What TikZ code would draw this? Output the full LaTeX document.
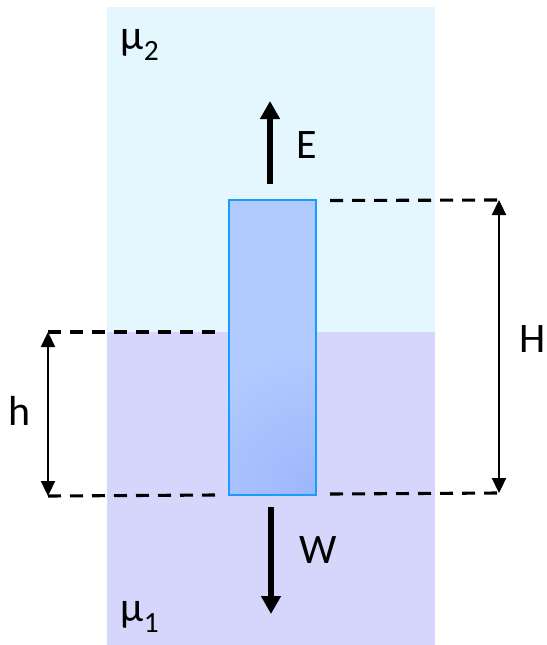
\documentclass[tikz,border=0pt]{standalone}
\usepackage{fontspec}
\setmainfont{Carlito}
\usetikzlibrary{arrows.meta}
\definecolor{topfluid}{HTML}{E4F6FE}
\definecolor{botfluid}{HTML}{D6D6FC}
\definecolor{rodedge}{HTML}{1A9BFF}
\definecolor{rodA}{HTML}{B2CBFF}
\definecolor{rodC}{HTML}{9CB6FC}
\begin{document}
\begin{tikzpicture}[x=1pt,y=-1pt,
  lbl/.style={font=\fontsize{42}{48}\selectfont, inner sep=0pt},
  dashline/.style={line width=3.1pt, dash pattern=on 13pt off 9pt},
  dimarrow/.style={line width=2.3pt, {Triangle[length=15pt,width=14pt]}-{Triangle[length=15pt,width=14pt]}},
  force/.style={line width=5.5pt, -{Triangle[length=18pt,width=19pt]}},
  rodbox/.style={outer sep=0pt, inner sep=0pt, minimum width=87pt, minimum height=295pt}]
\useasboundingbox (0,0) rectangle (546,645);
% fluids
\fill[topfluid] (107,7) rectangle (435,332);
\fill[botfluid] (107,332) rectangle (435,645);
% rod
\node[rodbox, fill=rodA] (rod) at (272.5,347.5) {};
\begin{scope}
  \clip (rod.south west) rectangle (rod.north east);
  \shade[inner color=rodC, outer color=rodA] (rod.south east) circle (150pt);
\end{scope}
\draw[rodedge, line width=2.6pt] (rod.south west) rectangle (rod.north east);
% labels
\node[lbl] (mu2) at (140,45) {μ\textsubscript{2}};
\node[lbl] (mu1) at (140,617) {μ\textsubscript{1}};
\node[lbl] (E) at (307,145) {E};
\node[lbl] (W) at (318,550) {W};
\node[lbl] (h) at (20,411) {h};
\node[lbl] (H) at (533,339) {H};
% forces
\coordinate (Es) at (270,184);
\coordinate (Ee) at (270,101);
\coordinate (Ws) at (271,507);
\coordinate (We) at (271,614);
\draw[force] (Es) -- (Ee);
\draw[force] (Ws) -- (We);
% dashed reference lines
\coordinate (hT) at (48,332);
\coordinate (hB) at (48,496);
\coordinate (HT) at (499,200);
\coordinate (HB) at (499,493);
\draw[dashline] (hT) -- (218,332);
\draw[dashline] (hB) -- (216,495);
\draw[dashline] (330,200.5) -- (HT);
\draw[dashline] (330,494) -- (HB);
% dimension arrows
\draw[dimarrow] (hT) -- (hB);
\draw[dimarrow] (HT) -- (HB);
\end{tikzpicture}
\end{document}
